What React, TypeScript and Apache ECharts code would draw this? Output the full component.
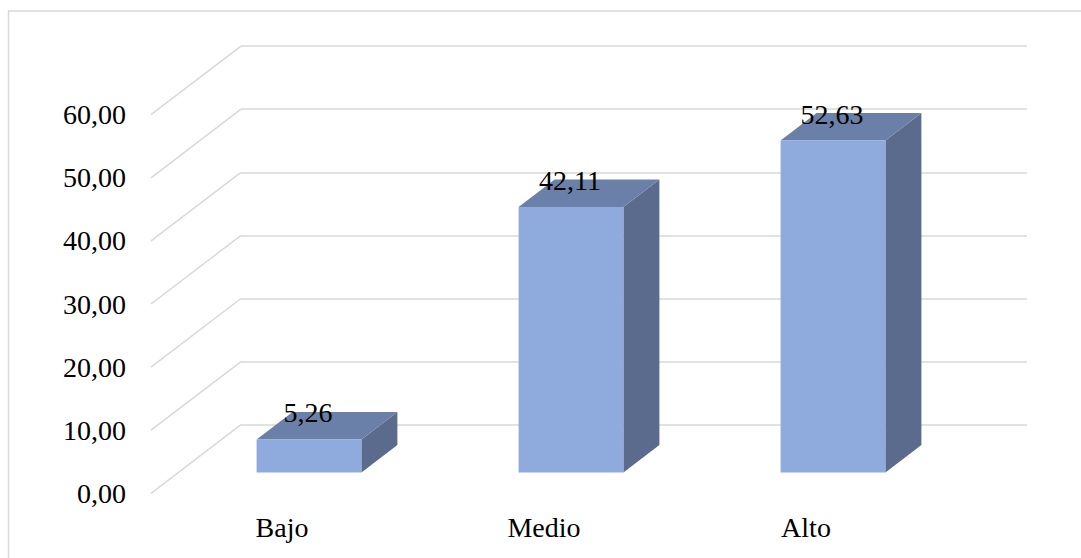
import React, { useEffect, useRef } from "react";
import * as echarts from "echarts";

const CATEGORIES = ["Bajo", "Medio", "Alto"];
const VALUES = [5.26, 42.11, 52.63];
const TICKS = [0, 10, 20, 30, 40, 50, 60];

const FONT = "Liberation Serif";
const GRID_COLOR = "#d9d9d9";
const FRONT_COLOR = "#8FAADC";
const TOP_COLOR = "#6B80A8";
const SIDE_COLOR = "#5B6B8D";

// oblique projection offsets
const WALL_DX = 90;
const WALL_DY = 68.6;
const BAR_DX = 36;
const BAR_DY = 27.5;

const fmt = (v: number) => v.toFixed(2).replace(".", ",");

export default function App() {
  const ref = useRef<HTMLDivElement>(null);

  useEffect(() => {
    document.body.style.margin = "0";
    const chart = echarts.init(ref.current!, undefined, { renderer: "svg" });
    const H = 378.6;
    const W = 786;
    const option: any = {
      animation: false,
      backgroundColor: "#ffffff",
      textStyle: { fontFamily: FONT },
      graphic: [
        {
          type: "rect",
          shape: { x: 8.5, y: 11, width: 1200, height: 700 },
          style: { fill: "none", stroke: GRID_COLOR, lineWidth: 1.5 },
          silent: true,
          z: -10,
        },
      ],
      grid: [
        { left: 151, top: 114.7, width: W, height: H },
        { left: 151 + WALL_DX, top: 114.7 - WALL_DY, width: W, height: H },
        { left: 178, top: 94, width: W, height: H },
      ],
      xAxis: [0, 1, 2].map((i) => ({
        type: "category",
        gridIndex: i,
        data: CATEGORIES,
        show: i === 0,
        axisLine: { show: false },
        axisTick: { show: false },
        splitLine: { show: false },
        axisLabel: {
          show: i === 0,
          margin: 20,
          color: "#000",
          fontSize: 28,
          fontFamily: FONT,
        },
      })),
      yAxis: [0, 1, 2].map((i) => ({
        type: "value",
        gridIndex: i,
        min: 0,
        max: 60,
        interval: 10,
        show: i !== 2,
        axisLine: { show: false },
        axisTick: { show: false },
        splitLine: { show: i === 1, lineStyle: { color: GRID_COLOR, width: 1.5 } },
        axisLabel: {
          show: i === 0,
          margin: 25,
          color: "#000",
          fontSize: 28,
          fontFamily: FONT,
          formatter: (v: number) => fmt(v),
        },
      })),
      series: [
        {
          type: "custom",
          xAxisIndex: 1,
          yAxisIndex: 1,
          clip: false,
          silent: true,
          z: 1,
          data: TICKS.map((t) => [0, t]),
          renderItem: (params: any, api: any) => {
            const p = api.coord([api.value(0), api.value(1)]);
            const band = api.size([1, 0])[0];
            const lx = p[0] - band / 2;
            return {
              type: "line",
              shape: { x1: lx, y1: p[1], x2: lx - WALL_DX, y2: p[1] + WALL_DY },
              style: { stroke: GRID_COLOR, lineWidth: 1.5 },
            };
          },
        },
        {
          type: "custom",
          xAxisIndex: 2,
          yAxisIndex: 2,
          clip: false,
          silent: true,
          z: 5,
          data: VALUES.map((v, i) => [i, v]),
          renderItem: (params: any, api: any) => {
            const x = api.value(0);
            const v = api.value(1);
            const base = api.coord([x, 0]);
            const top = api.coord([x, v]);
            const band = api.size([1, 0])[0];
            const w = band * 0.4;
            const l = base[0] - w / 2;
            const r = base[0] + w / 2;
            const ty = top[1];
            const by = base[1];
            return {
              type: "group",
              children: [
                {
                  type: "polygon",
                  shape: {
                    points: [
                      [r, ty],
                      [r + BAR_DX, ty - BAR_DY],
                      [r + BAR_DX, by - BAR_DY],
                      [r, by],
                    ],
                  },
                  style: { fill: SIDE_COLOR },
                },
                {
                  type: "polygon",
                  shape: {
                    points: [
                      [l, ty],
                      [r, ty],
                      [r + BAR_DX, ty - BAR_DY],
                      [l + BAR_DX, ty - BAR_DY],
                    ],
                  },
                  style: { fill: TOP_COLOR },
                },
                {
                  type: "rect",
                  shape: { x: l, y: ty, width: w, height: by - ty },
                  style: { fill: FRONT_COLOR },
                },
                {
                  type: "text",
                  x: base[0] - 1,
                  y: ty - BAR_DY + 1,
                  style: {
                    text: fmt(v),
                    fill: "#000",
                    fontSize: 28,
                    fontFamily: FONT,
                    align: "center",
                    verticalAlign: "middle",
                  },
                },
              ],
            };
          },
        },
      ],
    };
    chart.setOption(option);
    return () => chart.dispose();
  }, []);

  return (
    <div
      ref={ref}
      style={{ width: 1081, height: 558, overflow: "hidden", background: "#fff" }}
    />
  );
}
